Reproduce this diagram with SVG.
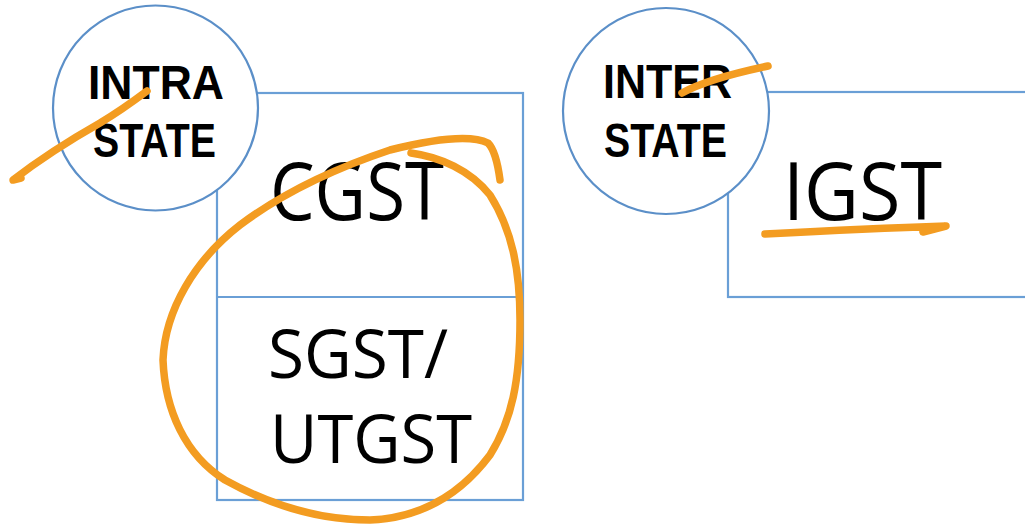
<svg xmlns="http://www.w3.org/2000/svg" width="1025" height="524" viewBox="0 0 1025 524">
<style>
.box{fill:#fff;stroke:#6a9fd6;stroke-width:2.2}
.circ{fill:#fff;stroke:#5b8fc8;stroke-width:2.2}
.lbl{font-family:"Liberation Sans",Arial,sans-serif;font-weight:bold;font-size:48px;fill:#000}
.big{font-family:"Open Sans","Liberation Sans",Arial,sans-serif;font-size:80px;fill:#000}
.mid{font-family:"Open Sans","Liberation Sans",Arial,sans-serif;font-size:67px;fill:#000}
.ink{fill:none;stroke:#f39c21;stroke-width:7.5;stroke-linecap:round;stroke-linejoin:round}
</style>
<rect width="1025" height="524" fill="#fff"/>
<g id="intra-box">
<rect class="box" x="217" y="93" width="306" height="407"/>
<line class="box" x1="217" y1="297" x2="523" y2="297"/>
<text class="big" x="270" y="220" textLength="174" lengthAdjust="spacingAndGlyphs">CGST</text>
<text class="mid" x="268" y="378" textLength="180" lengthAdjust="spacingAndGlyphs">SGST/</text>
<text class="mid" x="270" y="463" textLength="202" lengthAdjust="spacingAndGlyphs">UTGST</text>
</g>
<g id="intra-circle">
<circle class="circ" cx="155.5" cy="108" r="102.5"/>
<text class="lbl" x="88" y="99" textLength="136" lengthAdjust="spacingAndGlyphs">INTRA</text>
<text class="lbl" x="93" y="157" textLength="123" lengthAdjust="spacingAndGlyphs">STATE</text>
</g>
<g id="inter-box">
<rect class="box" x="728" y="92" width="310" height="205"/>
<text class="big" x="783" y="220" textLength="159" lengthAdjust="spacingAndGlyphs">IGST</text>
</g>
<g id="inter-circle">
<circle class="circ" cx="666" cy="111" r="103"/>
<text class="lbl" x="603" y="98" textLength="129" lengthAdjust="spacingAndGlyphs">INTER</text>
<text class="lbl" x="604" y="157" textLength="123" lengthAdjust="spacingAndGlyphs">STATE</text>
</g>
<g id="connectors">
<path class="ink" d="M 21 178 L 13 180 C 35 163 70 140 100 123 C 120 111 135 100 147 91"/>
<path class="ink" d="M 411 153 C 440 157 470 170 490 195 C 512 230 520 270 520 320 C 520 380 512 420 490 455 C 460 495 420 518 370 520 C 320 520 270 505 225 480 C 185 455 165 410 163 360 C 165 310 195 260 240 225 C 280 195 330 170 390 150 C 430 140 470 134 488 143 C 495 150 498 165 500 180"/>
<path class="ink" d="M 682 93 C 700 83 730 74 768 66"/>
<path class="ink" d="M 765 234 C 820 231 880 228 946 226 L 923 232"/>
</g>
</svg>
